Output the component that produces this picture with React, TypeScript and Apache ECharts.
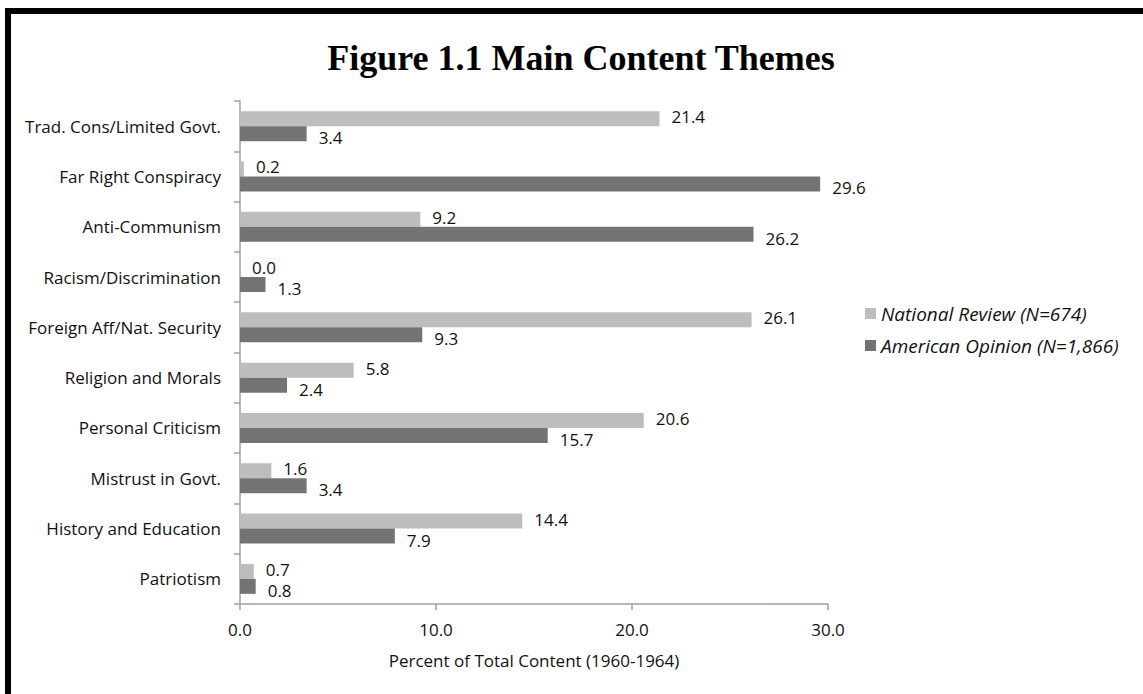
import React, { useEffect, useRef } from "react";
import * as echarts from "echarts";

const categories = [
  "Trad. Cons/Limited Govt.",
  "Far Right Conspiracy",
  "Anti-Communism",
  "Racism/Discrimination",
  "Foreign Aff/Nat. Security",
  "Religion and Morals",
  "Personal Criticism",
  "Mistrust in Govt.",
  "History and Education",
  "Patriotism",
];
const nationalReview = [21.4, 0.2, 9.2, 0.0, 26.1, 5.8, 20.6, 1.6, 14.4, 0.7];
const americanOpinion = [3.4, 29.6, 26.2, 1.3, 9.3, 2.4, 15.7, 3.4, 7.9, 0.8];
const seriesNames = ["National Review (N=674)", "American Opinion (N=1,866)"];
const titleText = "Figure 1.1 Main Content Themes";
const axisName = "Percent of Total Content (1960-1964)";

const FONT = "'Open Sans', sans-serif";

export default function App() {
  const ref = useRef<HTMLDivElement>(null);
  useEffect(() => {
    if (!ref.current) return;
    const chart = echarts.init(ref.current, undefined, { renderer: "svg" });
    const labelCfg = (dy: number) => ({
      show: true,
      position: "right" as const,
      distance: 12,
      offset: [0, dy],
      color: "#111",
      fontFamily: FONT,
      fontSize: 17,
      formatter: (p: any) => Number(p.value).toFixed(1),
    });
    chart.setOption({
      animation: false,
      backgroundColor: "#fff",
      title: {
        text: titleText,
        left: 576,
        top: 35,
        textAlign: "center",
        textStyle: {
          fontFamily: "'Liberation Serif', 'Times New Roman', serif",
          fontWeight: "bold",
          fontSize: 36,
          color: "#000",
        },
      },
      graphic: [
        {
          type: "rect",
          shape: { x: 8, y: 11, width: 1300, height: 900 },
          style: { fill: "none", stroke: "#000", lineWidth: 6 },
          silent: true,
        },
      ],
      legend: {
        orient: "vertical",
        left: 860,
        top: 299,
        itemWidth: 11,
        itemHeight: 11,
        itemGap: 13,
        icon: "rect",
        textStyle: {
          fontFamily: FONT,
          fontStyle: "italic",
          fontSize: 19,
          color: "#111",
        },
        data: seriesNames,
      },
      grid: { left: 240, right: 315, top: 101, bottom: 90, containLabel: false },
      xAxis: {
        type: "value",
        min: 0,
        max: 30,
        interval: 10,
        splitLine: { show: false },
        axisLine: { show: true, lineStyle: { color: "#a0a0a0", width: 1.5 } },
        axisTick: { show: true, length: 6, lineStyle: { color: "#a0a0a0", width: 1.5 } },
        axisLabel: {
          margin: 17,
          fontFamily: FONT,
          fontSize: 17,
          color: "#111",
          formatter: (v: number) => v.toFixed(1),
        },
        name: axisName,
        nameLocation: "middle",
        nameGap: 48,
        nameTextStyle: { fontFamily: FONT, fontSize: 17, color: "#111" },
      },
      yAxis: {
        type: "category",
        inverse: true,
        data: categories,
        axisLine: { show: true, lineStyle: { color: "#a0a0a0", width: 1.5 } },
        axisTick: { show: true, length: 6, lineStyle: { color: "#a0a0a0", width: 1.5 } },
        axisLabel: {
          margin: 19,
          padding: [4, 0, 0, 0],
          fontFamily: FONT,
          fontSize: 17,
          color: "#111",
        },
      },
      series: [
        {
          name: seriesNames[0],
          type: "bar",
          data: nationalReview,
          barWidth: 15,
          barGap: "0%",
          itemStyle: { color: "#bdbdbd" },
          label: labelCfg(-2),
        },
        {
          name: seriesNames[1],
          type: "bar",
          data: americanOpinion,
          barWidth: 15,
          barGap: "0%",
          itemStyle: { color: "#737373" },
          label: labelCfg(4),
        },
      ],
    });
    return () => chart.dispose();
  }, []);
  return (
    <div
      ref={ref}
      style={{ position: "fixed", left: 0, top: 0, width: 1143, height: 694 }}
    />
  );
}
